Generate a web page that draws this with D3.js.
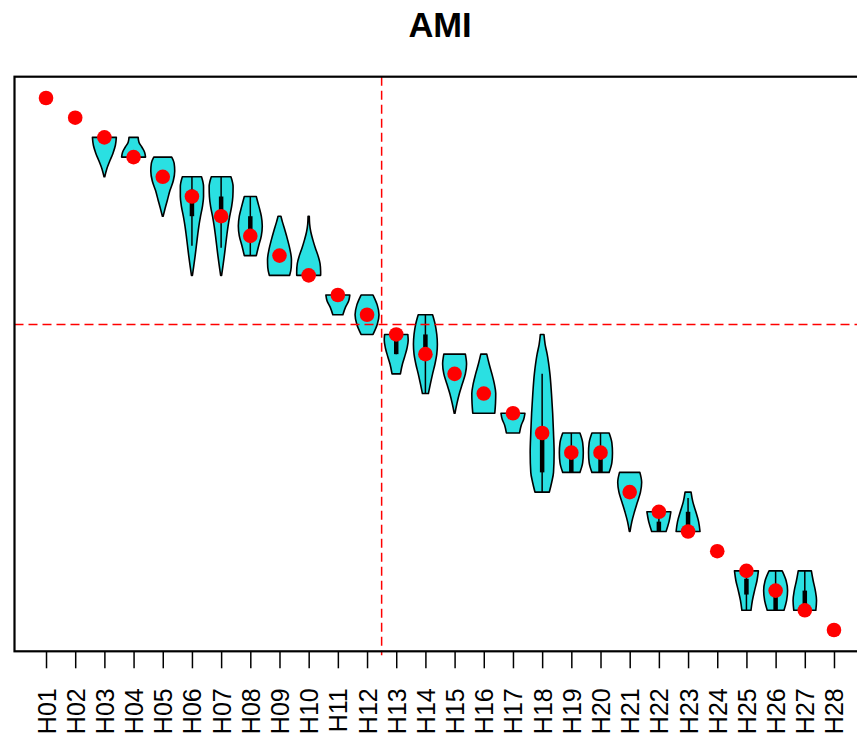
<!DOCTYPE html>
<html>
<head>
<meta charset="utf-8">
<script src="https://cdn.jsdelivr.net/npm/d3@7"></script>
<style>
  html, body { margin: 0; padding: 0; background: #fff; }
  svg { display: block; }
</style>
</head>
<body>
<div id="chart"></div>
<script>
// ---------- DATA ----------
const title = "AMI";
const groups = ["H01","H02","H03","H04","H05","H06","H07","H08","H09","H10","H11","H12","H13","H14",
                "H15","H16","H17","H18","H19","H20","H21","H22","H23","H24","H25","H26","H27","H28"];
// red point (rank) for each group
const pointRanks = [1,2,3,4,5,6,7,8,9,10,11,12,13,14,15,16,17,18,19,19,21,22,23,24,25,26,27,28];
// reference lines (rank units)
const refX = 12.5;
const refY = 12.5;

// violin density profiles: rank positions and relative density (0..1)
const violinGroups = ["H03","H04","H05","H06","H07","H08","H09","H10","H11","H12","H13","H14","H15",
                      "H16","H17","H18","H19","H20","H21","H22","H23","H25","H26","H27"];
const violinRanks = [
  [3,3.4,3.8,4.2,4.6,5],
  [3,3.25,3.5,3.75,4],
  [4,4.3,4.7,5.2,5.7,6.2,6.6,7],
  [5,5.5,6,6.5,7,7.5,8,8.5,9,9.5,10],
  [5,5.5,6,6.5,7,7.5,8,8.5,9,9.5,10],
  [6,6.5,7,7.5,8,8.5,9],
  [7,7.3,7.7,8.2,8.7,9.2,9.6,10],
  [7,7.4,7.8,8.2,8.6,9,9.4,9.8,10],
  [11,11.3,11.6,12],
  [11,11.5,12,12.5,13],
  [13,13.3,13.7,14.1,14.5,15],
  [12,12.5,13,13.5,14,14.5,15,15.5,16],
  [14,14.5,15,15.5,16,16.5,17],
  [14,14.5,15,15.5,16,16.5,17],
  [17,17.3,17.6,18],
  [13,13.5,14,15,16,17,18,19,20,20.5,21],
  [18,18.5,19,19.5,20],
  [18,18.5,19,19.5,20],
  [20,20.5,21,21.5,22,22.5,23],
  [22,22.5,23],
  [21,21.5,22,22.5,23],
  [25,25.5,26,26.5,27],
  [25,25.5,26,26.5,27],
  [25,25.5,26,26.5,27]
];
const violinDensity = [
  [1,0.92,0.72,0.45,0.2,0.03],
  [0.38,0.45,0.7,0.92,1],
  [0.75,0.95,1,0.88,0.6,0.38,0.2,0.03],
  [0.8,0.97,0.97,0.88,0.72,0.58,0.47,0.37,0.27,0.16,0.04],
  [0.82,1,0.98,0.88,0.72,0.58,0.47,0.37,0.27,0.16,0.04],
  [0.5,0.72,0.92,1,0.92,0.7,0.5],
  [0.12,0.25,0.45,0.68,0.88,1,0.98,0.85],
  [0.05,0.08,0.18,0.35,0.55,0.78,0.95,1,1],
  [1,0.9,0.65,0.42],
  [0.5,0.85,1,0.85,0.5],
  [0.97,1,0.9,0.72,0.52,0.35],
  [0.6,0.82,0.95,1,0.95,0.8,0.6,0.42,0.25],
  [0.9,1,0.9,0.65,0.4,0.2,0.03],
  [0.25,0.45,0.68,0.88,1,0.98,0.92],
  [1,0.9,0.7,0.55],
  [0.15,0.25,0.42,0.65,0.78,0.88,0.95,1,0.95,0.8,0.6],
  [0.72,0.95,1,0.95,0.72],
  [0.72,0.95,1,0.95,0.72],
  [0.85,1,0.9,0.65,0.4,0.18,0.03],
  [1,0.85,0.6],
  [0.25,0.4,0.65,0.88,1],
  [1,0.88,0.68,0.5,0.38],
  [0.55,0.88,1,0.92,0.7],
  [0.55,0.7,0.88,0.98,0.92]
];

// inner box (q1,q3) and whisker (low,high) per group
const boxGroups = ["H06","H07","H08","H13","H14","H18","H19","H20","H22","H23","H25","H26","H27"];
const boxQ1     = [5.65, 6.0, 7.0, 13.2, 13.0, 18.3, 19, 19, 22.5, 22.0, 25.4, 26.0, 26.0];
const boxQ3     = [7.0,  7.3, 8.0, 14.0, 14.0, 20.0, 20, 20, 23.0, 23.0, 26.2, 27.0, 27.0];
const whiskLo   = [5.0,  5.0, 6.0, 13.0, 12.0, 15.0, 18, 18, 22.0, 21.3, 25.0, 25.0, 25.0];
const whiskHi   = [8.5,  8.6, 9.0, 14.0, 16.0, 21.0, 20, 20, 23.0, 23.0, 27.0, 27.0, 27.0];

// ---------- LAYOUT ----------
const W = 857, H = 740;
const plot = { left: 14.5, right: 865.5, top: 76.7, bottom: 651.3 };
const pad = 27 * 0.04;

const svg = d3.select("#chart").append("svg")
  .attr("width", W).attr("height", H)
  .style("font-family", "'Liberation Sans', Arial, Helvetica, sans-serif");

const x = d3.scaleLinear().domain([1 - pad, 28 + pad]).range([plot.left, plot.right]);
const y = d3.scaleLinear().domain([1 - pad, 28 + pad]).range([plot.top, plot.bottom]);
const halfW = d3.scaleLinear().domain([0, 1]).range([0, x(1.41) - x(1)]);
const gx = g => x(groups.indexOf(g) + 1);

// title
svg.append("text")
  .attr("x", (plot.left + plot.right) / 2)
  .attr("y", 37)
  .attr("text-anchor", "middle")
  .style("font-weight", "bold")
  .style("font-size", "34.5px")
  .text(title);

// violins
const area = d3.area()
  .y(d => y(d.r))
  .x0(d => d.cx - halfW(d.d))
  .x1(d => d.cx + halfW(d.d))
  .curve(d3.curveMonotoneY);

violinGroups.forEach((g, i) => {
  const cx = gx(g);
  const pts = violinRanks[i].map((r, j) => ({ r, d: violinDensity[i][j], cx }));
  svg.append("path")
    .attr("d", area(pts))
    .attr("fill", "#2ae0e2")
    .attr("stroke", "#000")
    .attr("stroke-width", 1.6)
    .attr("stroke-linejoin", "round");
});

// whiskers and boxes
boxGroups.forEach((g, i) => {
  const cx = gx(g);
  svg.append("line")
    .attr("x1", cx).attr("x2", cx)
    .attr("y1", y(whiskLo[i])).attr("y2", y(whiskHi[i]))
    .attr("stroke", "#000").attr("stroke-width", 1.5);
  svg.append("line")
    .attr("x1", cx).attr("x2", cx)
    .attr("y1", y(boxQ1[i])).attr("y2", y(boxQ3[i]))
    .attr("stroke", "#000").attr("stroke-width", 4.5);
});

// reference dashed lines
svg.append("line")
  .attr("x1", x(refX)).attr("x2", x(refX))
  .attr("y1", plot.top).attr("y2", plot.bottom + 4)
  .attr("stroke", "red").attr("stroke-width", 1.5)
  .attr("stroke-dasharray", "9,5");
svg.append("line")
  .attr("x1", plot.left).attr("x2", plot.right)
  .attr("y1", y(refY)).attr("y2", y(refY))
  .attr("stroke", "red").attr("stroke-width", 1.5)
  .attr("stroke-dasharray", "9,5");

// points
svg.append("g").selectAll("circle")
  .data(groups)
  .join("circle")
  .attr("cx", (g, i) => x(i + 1))
  .attr("cy", (g, i) => y(pointRanks[i]))
  .attr("r", 7.3)
  .attr("fill", "red");

// frame
svg.append("rect")
  .attr("x", plot.left).attr("y", plot.top)
  .attr("width", plot.right - plot.left)
  .attr("height", plot.bottom - plot.top)
  .attr("fill", "none")
  .attr("stroke", "#000")
  .attr("stroke-width", 2.2);

// x axis
const axis = d3.axisBottom(x)
  .tickValues(d3.range(1, 29))
  .tickFormat(d => groups[d - 1])
  .tickSize(17)
  .tickPadding(0);

const ax = svg.append("g")
  .attr("transform", `translate(0,${plot.bottom})`)
  .call(axis);
ax.select(".domain").remove();
ax.selectAll(".tick line").attr("stroke", "#000").attr("stroke-width", 1.5);
ax.selectAll(".tick text")
  .attr("transform", "rotate(-90)")
  .attr("x", -37)
  .attr("y", 0)
  .attr("dy", "0.36em")
  .attr("text-anchor", "end")
  .attr("fill", "#000")
  .style("font-size", "25px")
  .style("font-family", "'Liberation Sans', Arial, Helvetica, sans-serif");
</script>
</body>
</html>
